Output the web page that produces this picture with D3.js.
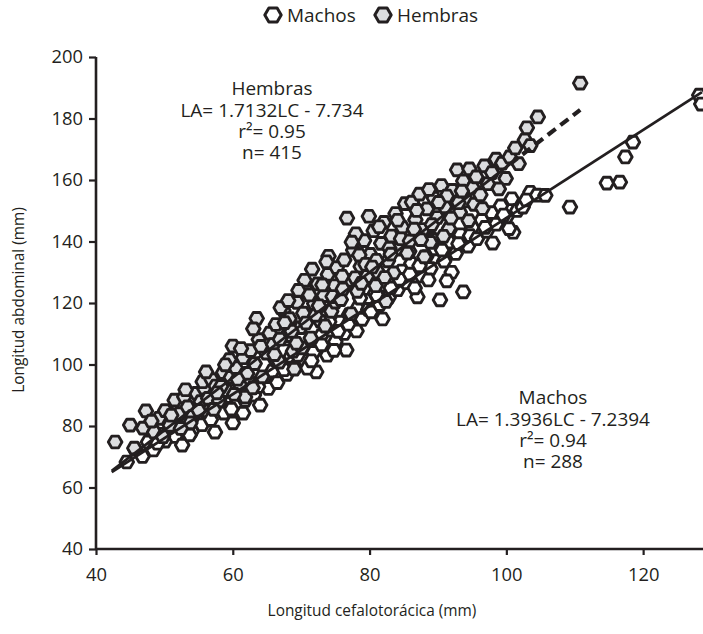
<!DOCTYPE html>
<html><head><meta charset="utf-8">
<script src="https://cdn.jsdelivr.net/npm/d3@7"></script>
<style>body{margin:0;background:#fff}svg{display:block}text{font-family:"Open Sans","Noto Sans",sans-serif;fill:#231f20}</style>
</head><body>
<svg id="c" width="703" height="634"></svg>
<script>
const xTicks=[40,60,80,100,120];
const yTicks=[40,60,80,100,120,140,160,180,200];
const hembras=[[42.8,74.8],[45,80.3],[47.3,84.9],[46.9,79.3],[45.6,72.8],[48.5,78],[49.2,82.5],[50.1,85],[50.8,80.2],[51.5,88.4],[52.2,84],[52.9,89.5],[53.4,86.2],[54.1,83.1],[54.7,90.6],[55.3,87.9],[55.8,92.3],[49.8,76.5],[51,83.5],[53.8,81],[52.4,79.2],[55,85.1],[48.1,81.6],[53.1,91.8],[55.6,94.4],
[56.4,89],[56.9,95.1],[57.5,93],[58,88.2],[58.6,97.4],[59.1,91.5],[59.7,95.8],[60,106],[60.4,99],[61,93.6],[61.5,102.2],[62.1,97.1],[62.6,104.5],[63.2,100.3],[63.5,115],[63.8,108.1],[64.3,96],[64.9,103.7],[65.4,110.2],[57.2,85.4],[59.5,101.6],[61.8,89.4],[56.1,97.6],[58.3,92.9],[60.7,95.2],[62.9,92.4],[64.1,105.9],[60.2,90.3],[63,111.6],[61.2,105.2],[58.9,99.9],[57.7,90.8],
[65.9,106.5],[66.3,113],[66.8,100.8],[67.4,117.6],[67.9,109.4],[68.3,114.9],[68.8,104.3],[69.4,120.2],[69.9,112],[70.3,116.7],[70.9,123.5],[71.4,108.6],[71.9,119.8],[72.4,126.2],[72.8,114.1],[73.3,122.4],[73.9,129.3],[74.4,117.3],[74.9,125.6],[75.2,131.5],[67,118.5],[70.5,127.4],[73.5,112.5],[69,98.5],[71.6,131],[74,135.2],[66.1,103.2],[68.6,110.8],[70.1,105.4],[72.1,116],[73.1,125.9],[75,120.3],[69.6,124.1],[67.6,113.6],[66.9,108.2],[68.1,120.8],[69.3,106.9],[70.7,113.5],[71.2,122.6],[72.6,119.1],[73.7,133.4],[74.6,122.1],
[75.8,121.1],[76.3,134],[76.7,147.6],[77.1,127.4],[77.6,137.2],[78.2,123.8],[78.7,131.9],[79.2,140.3],[79.6,128.6],[80.1,135.8],[80.6,143.5],[81.2,130.1],[81.7,139.4],[82.1,146.2],[82.7,133.7],[83.2,141.8],[83.8,149.1],[84.3,137.5],[84.8,144.6],[85.2,152.3],[78,142.5],[80.9,125.6],[83.5,129.8],[77.3,116.5],[79.9,148.2],[82.4,120.5],[76,128.7],[78.5,135.6],[81,133.9],[82.9,137.8],[84.6,140.9],[79.4,132.6],[77.9,128.2],[76.1,124.6],[77.4,139.8],[78.8,126.4],[80.4,131.7],[81.4,144.8],[82.2,128.3],[83.1,135.9],[84.1,146.9],
[85.9,140.2],[86.2,152.8],[86.7,147.1],[87.3,155.4],[87.8,143.9],[88.4,150.6],[88.9,139.7],[89.4,154.1],[89.9,147.8],[90.5,158.2],[91,151.3],[91.6,144.2],[92.1,156.6],[92.8,163.3],[93.2,149.5],[93.7,159.7],[94.2,153.2],[94.6,163.6],[95.1,157.4],[88,135],[90.8,141.7],[94.5,146.8],[86.5,144],[89.1,145.5],[91.3,154.8],[93,152.6],[85.5,136.2],[86.9,150.1],[87.5,140.6],[88.7,156.9],[90.1,152.7],[91.9,147.6],[93.5,156.4],[95.3,152.1],
[95.6,161],[96.2,155.2],[96.8,164.6],[97.3,158.8],[97.9,162.4],[98.5,166.8],[99.4,165.5],[99.9,160.5],[100.5,167.5],[101.3,170.4],[101.8,165.3],[102.7,173],[103,177],[103.5,171.2],[104.6,180.5],[110.8,191.5],[96.5,150.7],[98.9,157.1]];
const machos=[[44.5,68.3],[45.7,72.5],[46.8,70.1],[47.6,74.8],[48.4,72.2],[49.3,77.3],[50.1,75.1],[50.9,79.4],[51.6,76.6],[52.6,73.8],[53.3,81.2],[54,78.3],[54.8,83.6],[55.5,80.4],[47.9,79.6],[50.5,83.8],[52.1,86.1],[49,74.4],[53.7,77.1],
[56.2,84.9],[56.8,82.1],[57.4,78],[58.1,87.3],[58.7,84.2],[59.3,89.6],[60,81],[60.5,86.8],[61.2,91.4],[61.8,88.3],[62.5,93.7],[63.1,90.1],[64,86.8],[64.6,95.5],[65.2,92.2],[57.9,92.8],[62.9,97.6],[59.8,85.5],[61.5,84.2],[63.7,92.8],
[65.8,97.9],[66.5,94.1],[67.1,100.4],[67.9,96.8],[68.5,102.7],[69.2,99.2],[69.8,105.1],[70.5,101.4],[71.1,107.6],[71.8,103.9],[72.2,97.6],[72.9,109.3],[73.8,103],[74.4,111.2],[75,107.4],[75.7,113.8],[76.3,110.1],[77,116.2],[77.6,112.4],[78.3,118.5],[78.9,114.7],[79.5,120.9],[68,108.3],[73.3,115.6],[76.6,104.7],[70.9,98.8],[74.8,104.6],[78.1,110.9],[66.2,101.6],[67.5,98.3],[69.5,103],[70.2,108.9],[71.5,101.2],[73,106.4],[74.1,113.9],[75.4,110.8],[76.9,113.1],[78.6,121.6],[79.8,117.9],
[80.2,117.1],[80.8,123.2],[81.5,119.5],[82.1,125.8],[82.8,121.8],[83.4,128.1],[84.1,124.3],[84.7,130.4],[85.4,126.6],[86.1,132.9],[87,122],[87.6,128.8],[88.3,135.1],[88.9,131.2],[89.6,137.6],[90.3,121],[90.9,133.6],[91.6,139.8],[92,130],[92.6,136.1],[93.3,142.2],[93.7,123.6],[94.4,138.5],[95,144.6],[85.8,136.8],[89.2,140.7],[81.9,114.8],[86.6,124.9],[81.1,122.4],[83.1,124.9],[84.4,127.7],[85.9,129.4],[87.3,132.1],[88.6,127.5],[90.6,137.2],[91.3,127.2],[93,139.3],[94.7,141.9],
[95.7,140.9],[96.4,147],[97.1,143.3],[97.8,149.4],[98.5,145.6],[99.2,151.6],[100,147.9],[100.8,153.9],[101.6,150.1],[102.4,151.2],[103.5,156],[104.5,155.1],[105.7,155],[109.3,151.2],[114.7,159],[116.6,159.3],[117.4,167.5],[118.5,172.3],[128.2,187.6],[128.5,184.7],[98,139.5],[101,143],[96.9,144.6],[99.6,148.6],[100.4,144.2],[102.9,153.5]];
const lineMachos=[[42.3,65],[128.6,188.6]];
const lineHembrasSolid=[[42.3,65.4],[100.5,165.1]];
const lineHembrasDash=[[100.5,165.1],[110.8,182.8]];
const annotHembras=["Hembras","LA= 1.7132LC - 7.734","r²= 0.95","n= 415"];
const annotMachos=["Machos","LA= 1.3936LC - 7.2394","r²= 0.94","n= 288"];

const svg=d3.select("#c");
const ink="#231f20";
const x=d3.scaleLinear().domain([40,128.9]).range([96,704]);
const y=d3.scaleLinear().domain([40,200]).range([549,57]);

function sizeFor(str,target){const t=svg.append("text").style("font-size","20px").text(str);const w=t.node().getComputedTextLength();t.remove();return 20*target/w;}
const fsTick=sizeFor("120",31.5);
const fsTitle=sizeFor("Longitud abdominal (mm)",186);
const fsAnn=sizeFor("LA= 1.3936LC - 7.2394",194);

function hex(r){const p=[];for(let i=0;i<6;i++){const a=i*Math.PI/3;p.push([r*Math.cos(a),r*Math.sin(a)]);}return "M"+p.map(d=>d.join(",")).join("L")+"Z";}
const hp=hex(6.8);

const g=svg.append("g");
function pts(data,fill){g.selectAll(null).data(data).enter().append("path").attr("d",hp)
 .attr("transform",d=>`translate(${x(d[0])},${y(d[1])})`).attr("fill",fill).attr("stroke",ink).attr("stroke-width",2.9).attr("stroke-linejoin","round");}
pts(machos,"#fff");
pts(hembras,"#dcdddf");

const ln=d3.line().x(d=>x(d[0])).y(d=>y(d[1]));
svg.append("path").attr("d",ln(lineMachos)).attr("stroke",ink).attr("stroke-width",2.8).attr("fill","none");
svg.append("path").attr("d",ln(lineHembrasSolid)).attr("stroke",ink).attr("stroke-width",2.8).attr("fill","none");
svg.append("path").attr("d",ln(lineHembrasDash)).attr("stroke",ink).attr("stroke-width",4.2).attr("fill","none").attr("stroke-dasharray","10,6");

const ax=svg.append("g").attr("transform","translate(0,549)").call(d3.axisBottom(x).tickValues(xTicks).tickSize(6).tickPadding(13));
const ay=svg.append("g").attr("transform","translate(96,0)").call(d3.axisLeft(y).tickValues(yTicks).tickSize(7).tickPadding(6));
[ax,ay].forEach(a=>{a.select(".domain").attr("stroke",ink).attr("stroke-width",2.6);a.selectAll(".tick line").attr("stroke",ink).attr("stroke-width",2.2);
 a.selectAll(".tick text").style("font-size",fsTick+"px").attr("fill",ink);});
ax.select(".domain").attr("d","M96,0H704");
ay.select(".domain").attr("d","M0,549V57");

svg.append("text").attr("x",372).attr("y",616).attr("text-anchor","middle").style("font-size",fsTitle+"px").text("Longitud cefalotorácica (mm)");
svg.append("text").attr("transform","translate(24,300) rotate(-90)").attr("text-anchor","middle").style("font-size",fsTitle+"px").text("Longitud abdominal (mm)");

function annot(lines,cx,yc){lines.forEach((t,i)=>{svg.append("text").attr("x",cx).attr("y",yc[i]).attr("dy","0.36em").attr("text-anchor","middle").style("font-size",fsAnn+"px").text(t);});}
annot(annotHembras,272,[88,110,131,152]);
annot(annotMachos,553,[397,419,440,461]);

const leg=[["Machos","#fff",273],["Hembras","#dcdddf",383]];
leg.forEach(([t,f,lx])=>{svg.append("path").attr("d",hex(8.2)).attr("transform",`translate(${lx},15)`).attr("fill",f).attr("stroke",ink).attr("stroke-width",3).attr("stroke-linejoin","round");
 svg.append("text").attr("x",lx+14).attr("y",15).attr("dy","0.36em").style("font-size",fsAnn+"px").text(t);});
</script>
</body></html>
